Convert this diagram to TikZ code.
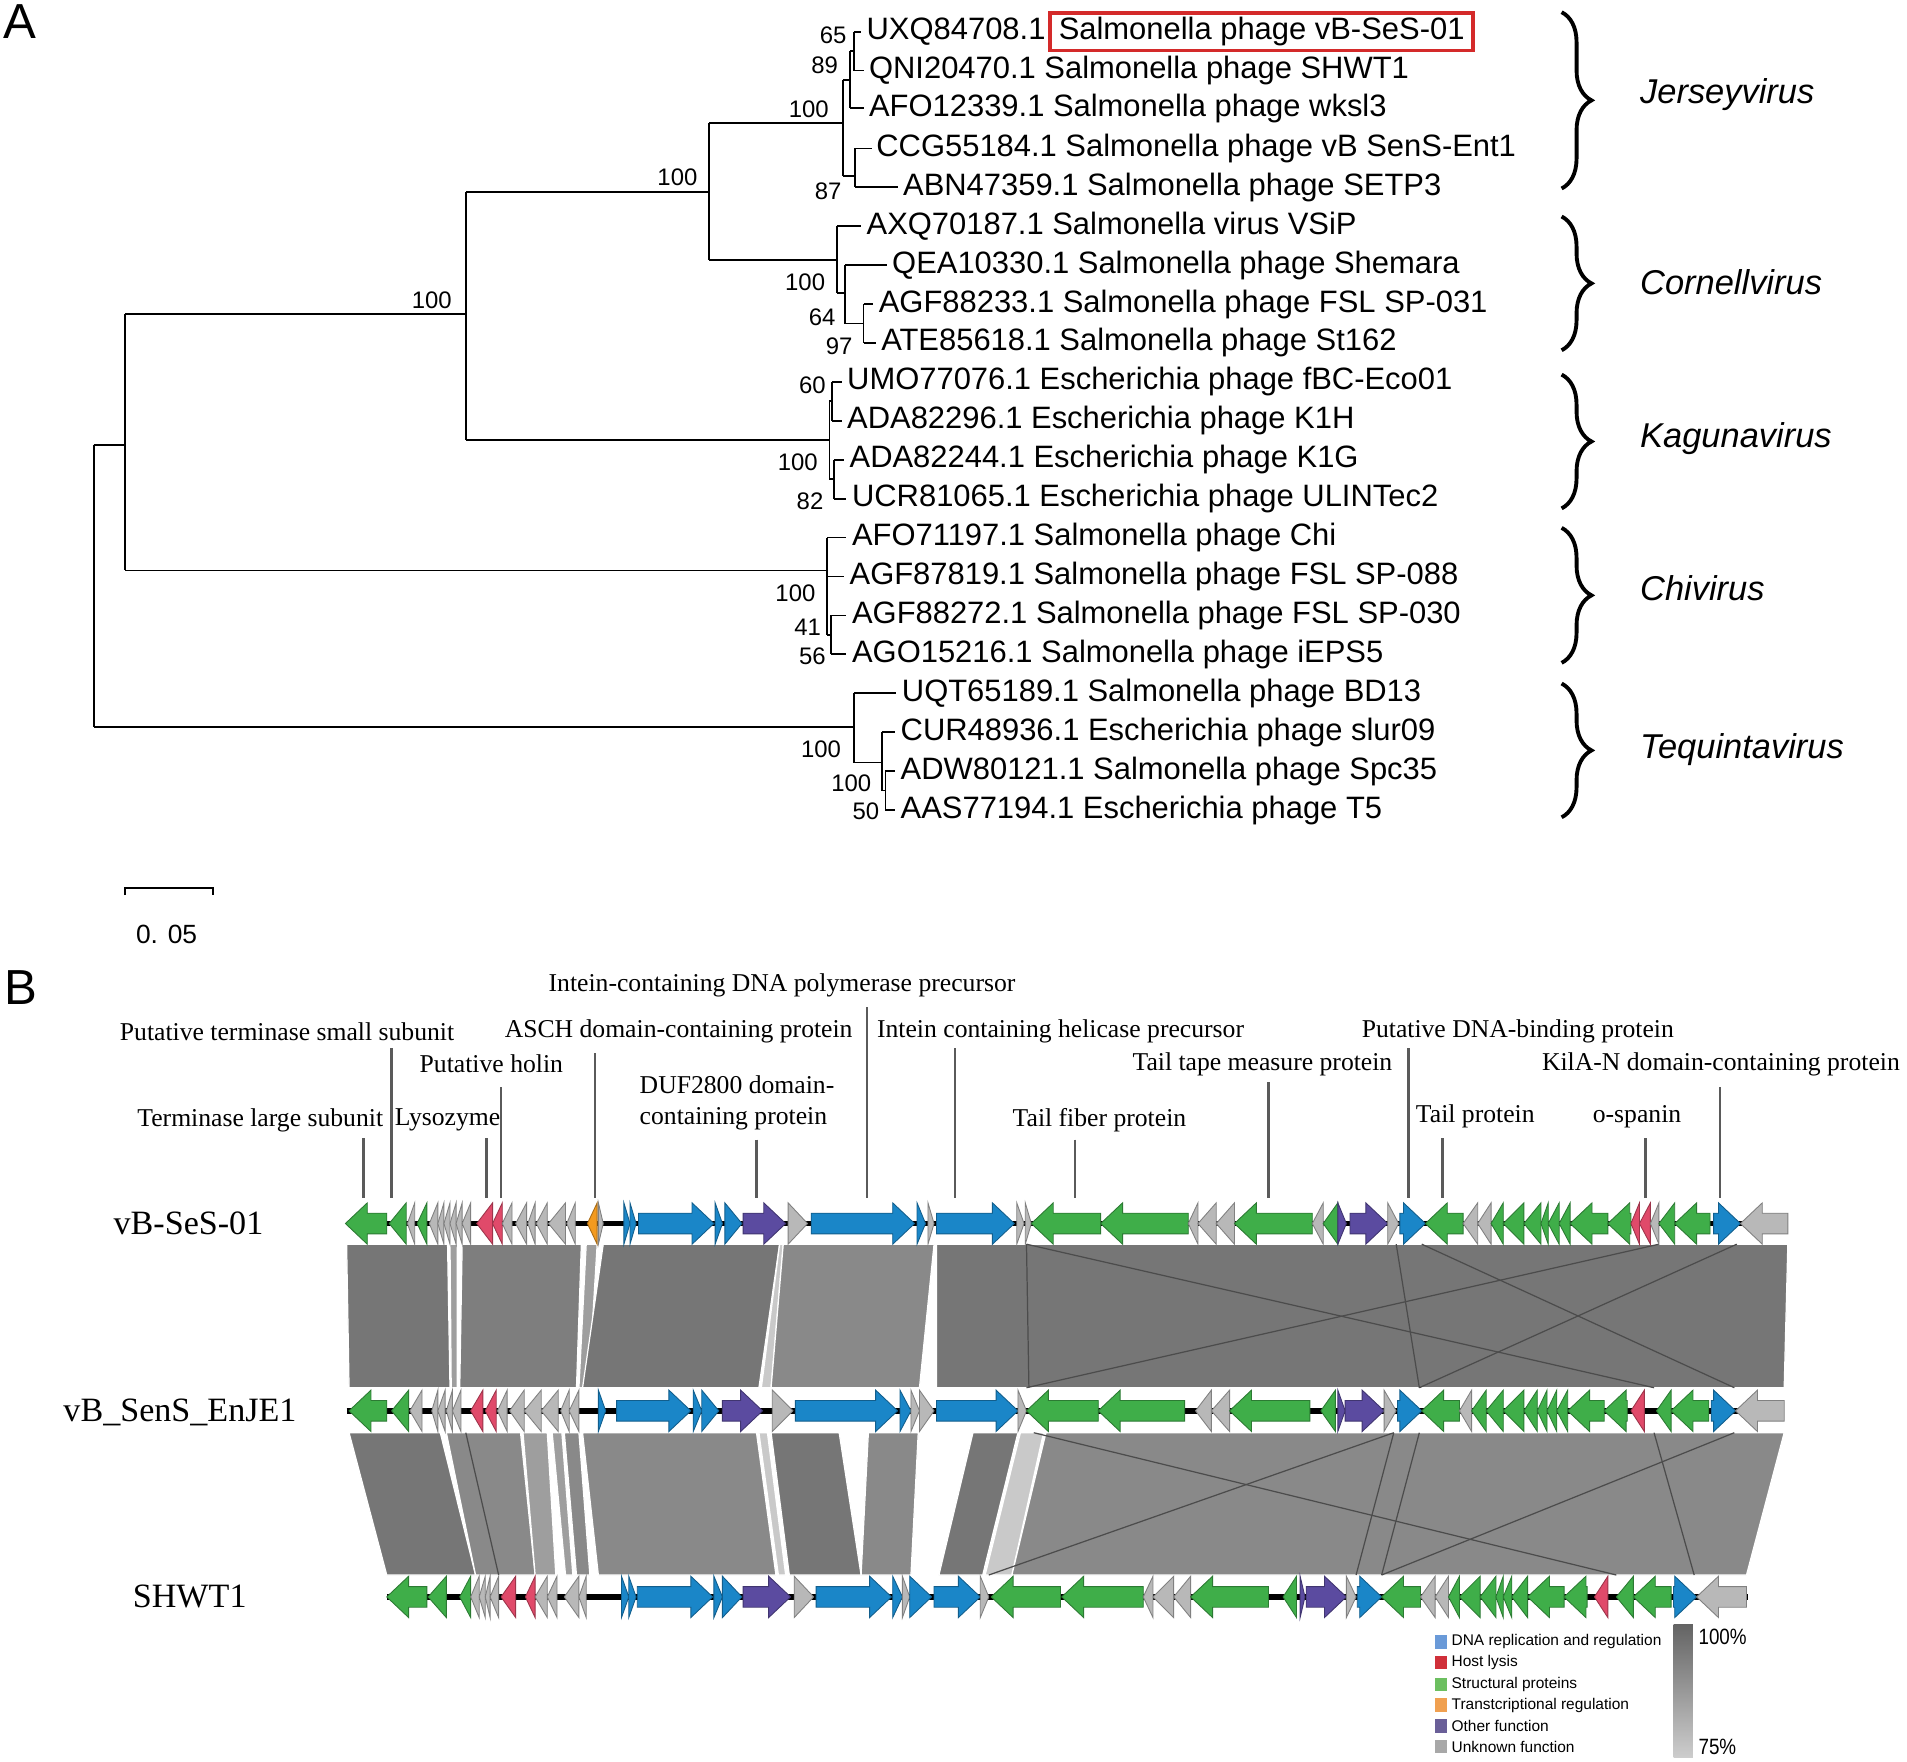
\documentclass[tikz,border=0pt]{standalone}
\usepackage{fontspec}
\setmainfont{Liberation Serif}
\newfontfamily\arialfont{Liberation Sans}
\usetikzlibrary{decorations.pathreplacing}

% colours
\definecolor{ggreen}{HTML}{3FAE49}
\definecolor{gblue}{HTML}{1A86C8}
\definecolor{gpurple}{HTML}{5B4BA0}
\definecolor{gred}{HTML}{E04A6A}
\definecolor{ggrey}{HTML}{B8B8B8}
\definecolor{gorange}{HTML}{F39A1E}
\definecolor{bandA}{HTML}{767676}
\definecolor{bandB}{HTML}{7E7E7E}
\definecolor{bandC}{HTML}{898989}
\definecolor{bandD}{HTML}{9E9E9E}
\definecolor{bandE}{HTML}{C9C9C9}
\definecolor{boxred}{HTML}{D42A2A}
\definecolor{leadergrey}{HTML}{5A5A5A}
\definecolor{legblue}{HTML}{6A9AD8}
\definecolor{legred}{HTML}{D0303A}
\definecolor{leggreen}{HTML}{6CBF60}
\definecolor{legorange}{HTML}{F0A050}
\definecolor{legpurple}{HTML}{6A5F98}
\definecolor{leggrey}{HTML}{A8A8A8}
\definecolor{shadetop}{HTML}{646464}
\definecolor{shadebot}{HTML}{CDCDCD}

\tikzset{
  leaf/.style={anchor=west, inner sep=0pt, font=\arialfont\fontsize{8.8}{10}\selectfont},
  boot/.style={inner sep=0pt, font=\arialfont\fontsize{6.8}{8}\selectfont},
  clade/.style={anchor=west, inner sep=0pt, font=\arialfont\itshape\fontsize{9.8}{11}\selectfont},
  branch/.style={line width=0.5pt},
  cladebrace/.style={decorate, decoration={brace, amplitude=8.5pt}, line width=1.1pt},
  annot/.style={inner sep=0pt, font=\fontsize{7.3}{8.8}\selectfont},
  leader/.style={draw=leadergrey, line width=0.7pt},
  trackname/.style={inner sep=0pt, font=\fontsize{9.7}{11}\selectfont},
  backbone/.style={line width=1.6pt},
  genebox/.style={line width=0.25pt},
  band/.style={draw=white, line width=0.35pt},
  crossline/.style={draw=black!70, line width=0.35pt},
  legtext/.style={anchor=west, inner sep=0pt, font=\arialfont\fontsize{4.4}{5}\selectfont},
  panel/.style={inner sep=0pt, font=\arialfont\fontsize{14}{16}\selectfont},
}

% one gene arrow: y, x1, x2, sense (1 / -1), colour
\newcommand{\drawgene}[5]{%
  \pgfmathsetmacro{\glen}{#3-#2}%
  \pgfmathsetmacro{\ghd}{min(18,\glen)}%
  \pgfmathsetmacro{\gtip}{(#4>0) ? #3 : #2}%
  \pgfmathsetmacro{\gtail}{(#4>0) ? #2 : #3}%
  \pgfmathsetmacro{\gneck}{\gtip-(#4)*\ghd}%
  \filldraw[genebox, fill=#5, draw=#5!70!black]
    (\gtail,#1-8.5) -- (\gneck,#1-8.5) -- (\gneck,#1-17) -- (\gtip,#1)
    -- (\gneck,#1+17) -- (\gneck,#1+8.5) -- (\gtail,#1+8.5) -- cycle;
}

\begin{document}
\begin{tikzpicture}[x=0.012162cm, y=-0.012162cm]
    \useasboundingbox (0,0) rectangle (1568,1448);
    \fill[white] (0,0) rectangle (1568,1448);

    % Panel A: arbol
    \node[panel] (pA) at (16,18) {A};

    \draw[branch] (77,366) -- (77,598);
    \draw[branch] (77,366) -- (103,366);
    \draw[branch] (77,598) -- (702,598);
    \draw[branch] (103,258) -- (103,469);
    \draw[branch] (103,258) -- (383,258);
    \draw[branch] (103,469) -- (680,469);
    \draw[branch] (383,158) -- (383,362);
    \draw[branch] (383,158) -- (583,158);
    \draw[branch] (383,362) -- (682,362);
    \draw[branch] (583,101) -- (583,214);
    \draw[branch] (583,101) -- (693,101);
    \draw[branch] (583,214) -- (688,214);

    % Jerseyvirus
    \draw[branch] (693,66) -- (693,145);
    \draw[branch] (693,66) -- (699,66) (699,42) -- (699,89) (699,42) -- (702,42);
    \draw[branch] (702,26) -- (702,58) (702,26) -- (708,26) (702,58) -- (710,58) (699,89) -- (710,89);
    \draw[branch] (693,145) -- (703,145) (703,122) -- (703,154);
    \draw[branch] (703,122) -- (717,122) (703,154) -- (738,154);

    % Cornellvirus
    \draw[branch] (688,186) -- (688,241) (688,186) -- (708,186) (688,241) -- (695,241);
    \draw[branch] (695,218) -- (695,266) (695,218) -- (729,218) (695,266) -- (710,266);
    \draw[branch] (710,250) -- (710,282) (710,250) -- (718,250) (710,282) -- (720,282);

    % Kagunavirus
    \draw[branch] (682,330) -- (682,394) (682,330) -- (684,330) (682,394) -- (686,394);
    \draw[branch] (684,314) -- (684,346) (684,314) -- (692,314) (684,346) -- (692,346);
    \draw[branch] (686,378) -- (686,410) (686,378) -- (694,378) (686,410) -- (696,410);

    % Chivirus
    \draw[branch] (680,442) -- (680,522) (680,442) -- (696,442) (680,474) -- (694,474);
    \draw[branch] (680,522) -- (683,522) (683,506) -- (683,538) (683,506) -- (696,506) (683,538) -- (696,538);

    % Tequintavirus
    \draw[branch] (702,570) -- (702,627) (702,570) -- (737,570) (702,627) -- (725,627);
    \draw[branch] (725,602) -- (725,650) (725,602) -- (736,602) (725,650) -- (728,650);
    \draw[branch] (728,634) -- (728,666) (728,634) -- (736,634) (728,666) -- (736,666);

    % Hojas
    \node[leaf] (leaf1) at (712,26) {UXQ84708.1};
    \node[leaf, draw=boxred, line width=1.1pt, inner xsep=2.4pt, minimum height=10.7pt] (leaf1b) at (862,26) {Salmonella phage vB-SeS-01};
    \foreach \n/\x/\y/\t in {
      2/714/58/QNI20470.1 Salmonella phage SHWT1,
      3/714/89/AFO12339.1 Salmonella phage wksl3,
      4/720/122/CCG55184.1 Salmonella phage vB SenS-Ent1,
      5/742/154/ABN47359.1 Salmonella phage SETP3,
      6/712/186/AXQ70187.1 Salmonella virus VSiP,
      7/733/218/QEA10330.1 Salmonella phage Shemara,
      8/722/250/AGF88233.1 Salmonella phage FSL SP-031,
      9/724/282/ATE85618.1 Salmonella phage St162,
      10/696/314/UMO77076.1 Escherichia phage fBC-Eco01,
      11/696/346/ADA82296.1 Escherichia phage K1H,
      12/698/378/ADA82244.1 Escherichia phage K1G,
      13/700/410/UCR81065.1 Escherichia phage ULINTec2,
      14/700/442/AFO71197.1 Salmonella phage Chi,
      15/698/474/AGF87819.1 Salmonella phage FSL SP-088,
      16/700/506/AGF88272.1 Salmonella phage FSL SP-030,
      17/700/538/AGO15216.1 Salmonella phage iEPS5,
      18/741/570/UQT65189.1 Salmonella phage BD13,
      19/740/602/CUR48936.1 Escherichia phage slur09,
      20/740/634/ADW80121.1 Salmonella phage Spc35,
      21/740/666/AAS77194.1 Escherichia phage T5}
      \node[leaf] (leaf\n) at (\x,\y) {\t};

    % Bootstrap
    \foreach \x/\y/\v [count=\k] in {355/247/100, 557/146/100, 665/90/100, 685/29/65, 678/54/89,
      681/157/87, 662/232/100, 676/261/64, 690/285/97, 668/317/60, 656/380/100, 666/412/82,
      654/488/100, 664/516/41, 668/540/56, 675/616/100, 700/644/100, 712/667/50}
      \node[boot] (bs\k) at (\x,\y) {\v};

    % Generos
    \foreach \top/\bot/\mid/\g [count=\k] in {10/155/78/Jerseyvirus, 178/288/232/Cornellvirus,
      308/418/361/Kagunavirus, 434/545/484/Chivirus, 562/672/616/Tequintavirus} {
      \draw[cladebrace] (1284,\top) -- (1284,\bot);
      \node[clade] (genus\k) at (1348,\mid) {\g};
    }

    % Escala
    \draw[branch] (103,736) -- (103,730) -- (175,730) -- (175,736);
    \node[inner sep=0pt, font=\arialfont\fontsize{7.5}{9}\selectfont] (scale) at (137,768) {0. 05};

    % Panel B: genomas
    \node[panel] (pB) at (17,812) {B};

    % Bandas de identidad
    \foreach \a/\b/\c/\d/\col in {285/368/370/287/bandA, 370/376/376/371/bandD, 380/478/474/378/bandB,
      482/491/484/476/bandD, 496/641/624/479/bandA, 641/644/634/626/bandE, 644/768/756/634/bandC,
      770/1470/1467/770/bandA}
      \filldraw[band, fill=\col] (\a,1023) -- (\b,1023) -- (\c,1141) -- (\d,1141) -- cycle;
    \foreach \a/\b/\c/\d/\col in {287/362/391/318/bandA, 367/428/440/391/bandC, 430/450/457/440/bandD,
      454/462/471/465/bandD, 464/476/485/474/bandC, 479/622/638/492/bandC, 624/631/646/640/bandE,
      634/690/708/649/bandA, 714/755/749/708/bandC, 800/837/808/772/bandA, 839/858/832/810/bandE,
      860/1467/1436/832/bandC}
      \filldraw[band, fill=\col] (\a,1178) -- (\b,1178) -- (\c,1295) -- (\d,1295) -- cycle;

    % Reordenamientos
    \draw[crossline] (844,1023) -- (846,1141);
    \draw[crossline] (844,1023) -- (1360,1141);
    \draw[crossline] (844,1141) -- (1364,1023);
    \draw[crossline] (1148,1023) -- (1167,1141);
    \draw[crossline] (1169,1023) -- (1426,1141);
    \draw[crossline] (1167,1141) -- (1428,1023);
    \draw[crossline] (383,1178) -- (410,1295);
    \draw[crossline] (850,1178) -- (1329,1295);
    \draw[crossline] (813,1295) -- (1146,1178);
    \draw[crossline] (1146,1178) -- (1115,1295);
    \draw[crossline] (1167,1178) -- (1136,1295);
    \draw[crossline] (1136,1295) -- (1426,1178);
    \draw[crossline] (1360,1178) -- (1393,1295);

    % Ejes de los genomas
    \draw[backbone] (285,1006) -- (1470,1006);
    \draw[backbone] (285,1160) -- (1467,1160);
    \draw[backbone] (318,1313) -- (1437,1313);

    \node[trackname] (t1) at (155,1006) {vB-SeS-01};
    \node[trackname] (t2) at (148,1161) {vB\_SenS\_EnJE1};
    \node[trackname] (t3) at (156,1313) {SHWT1};

    % vB-SeS-01
    \foreach \ga/\gb/\gs/\gc in {284/318/-1/ggreen, 320/334/-1/ggreen, 335/341/-1/ggrey, 343/351/-1/ggreen,
      353/360/-1/ggrey, 360/365/-1/ggrey, 365/370/-1/ggrey, 370/375/-1/ggrey, 375/380/-1/ggrey,
      380/387/-1/ggrey, 392/405/-1/gred, 405/413/-1/gred, 413/421/-1/ggrey, 424/433/-1/ggrey,
      434/440/-1/ggrey, 441/450/-1/ggrey, 451/465/-1/ggrey, 466/473/-1/ggrey, 483/491/-1/gorange,
      492/496/1/ggrey, 513/518/1/gblue, 518/523/1/gblue, 525/587/1/gblue, 588/594/1/gblue,
      596/610/1/gblue, 611/646/1/gpurple, 648/664/1/ggrey, 667/752/1/gblue, 754/761/1/gblue,
      763/768/1/ggrey, 770/834/1/gblue, 836/842/1/ggrey, 843/848/1/ggrey, 848/905/-1/ggreen,
      905/977/-1/ggreen, 977/985/-1/ggrey, 985/1000/-1/ggrey, 1000/1015/-1/ggrey, 1015/1079/-1/ggreen,
      1079/1088/-1/ggrey, 1088/1100/-1/ggreen, 1100/1107/1/gpurple, 1110/1141/1/gpurple,
      1141/1150/1/ggrey, 1151/1172/1/gblue, 1172/1203/-1/ggreen, 1203/1215/-1/ggrey,
      1215/1226/-1/ggrey, 1226/1236/-1/ggreen, 1236/1253/-1/ggreen, 1253/1267/-1/ggreen,
      1267/1273/-1/ggreen, 1273/1282/-1/ggreen, 1282/1291/-1/ggreen, 1291/1322/-1/ggreen,
      1322/1341/-1/ggreen, 1341/1348/-1/gred, 1348/1357/-1/gred, 1357/1364/-1/ggrey,
      1364/1377/-1/ggreen, 1377/1406/-1/ggreen, 1409/1431/1/gblue, 1431/1470/-1/ggrey}
      \drawgene{1006}{\ga}{\gb}{\gs}{\gc};

    % vB_SenS_EnJE1
    \foreach \ga/\gb/\gs/\gc in {287/318/-1/ggreen, 322/336/-1/ggreen, 337/347/-1/ggrey, 355/360/-1/ggrey,
      360/366/-1/ggrey, 367/372/-1/ggrey, 372/379/-1/ggrey, 387/397/-1/gred, 399/408/-1/gred,
      409/417/-1/ggrey, 419/431/-1/ggrey, 431/445/-1/ggrey, 445/459/-1/ggrey, 461/468/-1/ggrey,
      468/476/-1/ggrey, 492/498/1/gblue, 507/568/1/gblue, 570/577/1/gblue, 577/591/1/gblue,
      594/627/1/gpurple, 635/652/1/ggrey, 654/738/1/gblue, 740/749/1/gblue, 749/756/1/ggrey,
      756/768/1/ggrey, 770/837/1/gblue, 837/844/1/ggrey, 844/903/-1/ggreen, 903/974/-1/ggreen,
      983/996/-1/ggrey, 996/1011/-1/ggrey, 1011/1077/-1/ggreen, 1086/1098/-1/ggreen,
      1100/1106/1/gpurple, 1106/1138/1/gpurple, 1138/1148/1/ggrey, 1149/1169/1/gblue,
      1169/1200/-1/ggreen, 1200/1210/-1/ggrey, 1210/1222/-1/ggreen, 1222/1236/-1/ggreen,
      1236/1253/-1/ggreen, 1253/1264/-1/ggreen, 1264/1272/-1/ggreen, 1272/1280/-1/ggreen,
      1280/1289/-1/ggreen, 1289/1319/-1/ggreen, 1319/1338/-1/ggreen, 1341/1352/-1/gred,
      1362/1374/-1/ggreen, 1374/1405/-1/ggreen, 1407/1427/1/gblue, 1427/1467/-1/ggrey}
      \drawgene{1160}{\ga}{\gb}{\gs}{\gc};

    % SHWT1
    \foreach \ga/\gb/\gs/\gc in {318/351/-1/ggreen, 352/367/-1/ggreen, 378/387/-1/ggreen, 387/394/-1/ggrey,
      394/399/-1/ggrey, 399/403/-1/ggrey, 403/410/-1/ggrey, 412/424/-1/gred, 432/440/-1/gred,
      440/450/-1/ggrey, 450/458/-1/ggrey, 464/476/-1/ggrey, 476/482/-1/ggrey, 511/517/1/gblue,
      517/523/1/gblue, 524/586/1/gblue, 587/594/1/gblue, 594/610/1/gblue, 611/650/1/gpurple,
      653/669/1/ggrey, 671/733/1/gblue, 734/742/1/gblue, 742/748/1/ggrey, 748/766/1/gblue,
      768/806/1/gblue, 806/813/1/ggrey, 815/872/-1/ggreen, 873/940/-1/ggreen, 940/948/-1/ggrey,
      948/965/-1/ggrey, 965/979/-1/ggrey, 979/1043/-1/ggreen, 1055/1066/-1/ggreen,
      1069/1073/1/gpurple, 1074/1107/1/gpurple, 1107/1115/1/ggrey, 1116/1136/1/gblue,
      1136/1168/-1/ggreen, 1168/1180/-1/ggrey, 1180/1191/-1/ggrey, 1191/1200/-1/ggreen,
      1200/1217/-1/ggreen, 1217/1230/-1/ggreen, 1230/1236/-1/ggreen, 1236/1243/-1/ggreen,
      1243/1256/-1/ggreen, 1256/1286/-1/ggreen, 1286/1305/-1/ggreen, 1311/1322/-1/gred,
      1329/1343/-1/ggreen, 1343/1374/-1/ggreen, 1376/1395/1/gblue, 1395/1436/-1/ggrey}
      \drawgene{1313}{\ga}{\gb}{\gs}{\gc};

    % Anotaciones
    \foreach \x/\y/\lx/\ly/\t [count=\k] in {
      643/810/713/828/Intein-containing DNA polymerase precursor,
      236/848/322/862/Putative terminase small subunit,
      558/848/489/866/ASCH domain-containing protein,
      872/848/785/862/Intein containing helicase precursor,
      1248/848/1158/862/Putative DNA-binding protein,
      404/875/412/894/Putative holin,
      1038/875/1043/890/Tail tape measure protein,
      1415/875/1414/894/KilA-N domain-containing protein,
      214/921/299/936/Terminase large subunit,
      368/921/400/936/Lysozyme,
      904/921/884/937/Tail fiber protein,
      1213/918/1186/936/Tail protein,
      1346/918/1353/936/o-spanin,
      606/907/622/937/{DUF2800 domain-\\containing protein}} {
      \node[annot, align=left] (ann\k) at (\x,\y) {\t};
      \draw[leader] (\lx,\ly) -- (\lx,985);
    }

    % Leyenda
    \foreach \y/\col/\t [count=\k] in {1350/legblue/DNA replication and regulation, 1367/legred/Host lysis,
      1385/leggreen/Structural proteins, 1402/legorange/Transtcriptional regulation,
      1419/legpurple/Other function, 1436/leggrey/Unknown function} {
      \fill[\col] (1180,\y-5.5) rectangle (1190,\y+5.5);
      \node[legtext] (leg\k) at (1193,\y) {\t};
    }
    \shade[top color=shadetop, bottom color=shadebot] (1376,1336) rectangle (1392,1445);
    \node[anchor=west, inner sep=0pt, font=\arialfont\fontsize{6.3}{7}\selectfont] (pct100) at (1396,1346) {\scalebox{0.85}[1]{100\%}};
    \node[anchor=west, inner sep=0pt, font=\arialfont\fontsize{6.3}{7}\selectfont] (pct75) at (1396,1436) {\scalebox{0.85}[1]{75\%}};

\end{tikzpicture}
\end{document}
